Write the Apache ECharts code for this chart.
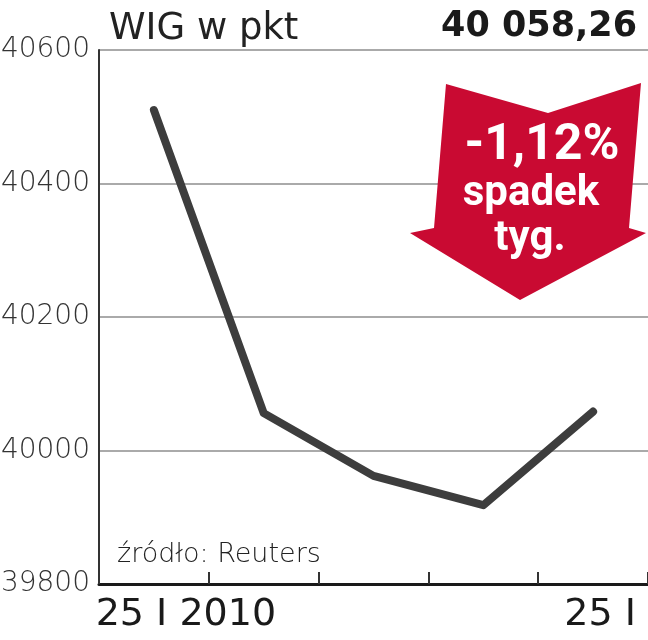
<!DOCTYPE html>
<html>
<head>
<meta charset="utf-8">
<script src="https://cdn.jsdelivr.net/npm/echarts@6/dist/echarts.min.js"></script>
<style>
  html, body { margin: 0; padding: 0; background: #fff; }
  #chart { width: 648px; height: 640px; }
</style>
</head>
<body>
<div id="chart"></div>
<script>
// WIG, one week of closes
const days = ['25', '26', '27', '28', '29'];
const wig = [40510, 40056, 39962, 39918, 40058.26];
const xLabels = ['25 I 2010', '', '', '', '25 I'];
const yMin = 39800, yMax = 40600, yStep = 200;

const chart = echarts.init(document.getElementById('chart'));

chart.setOption({
  animation: false,
  title: [
    {
      text: 'WIG w pkt',
      left: 104,
      top: 6,
      textStyle: { fontFamily: 'DejaVu Sans', fontSize: 37, fontWeight: 'normal', color: '#222' }
    },
    {
      text: '40 058,26',
      right: 6,
      top: 4,
      textStyle: { fontFamily: 'DejaVu Sans', fontSize: 35, fontWeight: 'bold', color: '#1a1a1a' }
    }
  ],
  grid: { left: 99, right: 0, top: 50, bottom: 56, outerBoundsMode: 'none', containLabel: false },
  xAxis: {
    type: 'category',
    data: days,
    boundaryGap: true,
    axisLine: { lineStyle: { color: '#1a1a1a', width: 3 } },
    axisTick: { show: true, inside: true, length: 12, lineStyle: { color: '#333', width: 2 } },
    axisLabel: {
      interval: 0,
      margin: 12,
      formatter: function (v, i) {
        if (!xLabels[i]) return '';
        return i === 0 ? '{a|' + xLabels[i] + '}' : '{b|' + xLabels[i] + '}';
      },
      rich: {
        a: { fontFamily: 'DejaVu Sans', fontSize: 38, color: '#1a1a1a', padding: [0, 0, 0, 64] },
        b: { fontFamily: 'DejaVu Sans', fontSize: 38, color: '#1a1a1a', padding: [0, 0, 0, 14] }
      }
    }
  },
  yAxis: {
    type: 'value',
    min: yMin,
    max: yMax,
    interval: yStep,
    axisLine: { show: true, lineStyle: { color: '#333', width: 2 } },
    axisTick: { show: false },
    splitLine: { lineStyle: { color: '#aaa', width: 2 } },
    axisLabel: {
      margin: 9,
      formatter: function (v) { return String(v); },
      fontFamily: 'DejaVu Sans',
      fontWeight: 200,
      fontSize: 28,
      color: '#333'
    }
  },
  graphic: [
    {
      type: 'text',
      left: 117,
      top: 541,
      style: { text: 'źródło: Reuters', font: '200 27px "DejaVu Sans"', fill: '#222' }
    },
    {
      type: 'polygon',
      shape: { points: [[446, 84], [548, 113], [641, 83], [629, 228], [646, 233], [520, 300], [410, 233], [434, 228]] },
      style: { fill: '#c90a32' },
      z: 10
    },
    {
      type: 'text',
      x: 542, y: 146,
      style: { text: '-1,12%', font: 'bold 50px Roboto', fill: '#fff', align: 'center', verticalAlign: 'middle' },
      z: 11
    },
    {
      type: 'text',
      x: 531, y: 194,
      style: { text: 'spadek', font: 'bold 42px Roboto', fill: '#fff', align: 'center', verticalAlign: 'middle' },
      z: 11
    },
    {
      type: 'text',
      x: 530, y: 239,
      style: { text: 'tyg.', font: 'bold 42px Roboto', fill: '#fff', align: 'center', verticalAlign: 'middle' },
      z: 11
    }
  ],
  series: [
    {
      type: 'line',
      data: wig,
      symbol: 'none',
      lineStyle: { color: '#3d3d3d', width: 8, cap: 'round', join: 'round' },
      z: 5
    }
  ]
});
</script>
</body>
</html>
